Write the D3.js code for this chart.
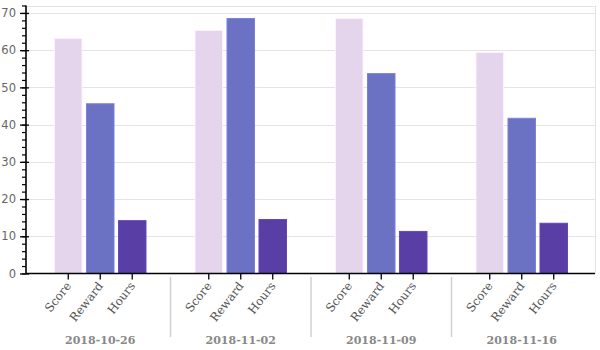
<!DOCTYPE html>
<html>
<head>
<meta charset="utf-8">
<script src="https://cdn.jsdelivr.net/npm/d3@7"></script>
<style>
  html, body { margin: 0; padding: 0; background: #fff; }
  svg { display: block; }
</style>
</head>
<body>
<svg id="chart" width="600" height="350"></svg>
<script>
// Weekly metrics, one group of bars per week
const weeks = ["2018-10-26", "2018-11-02", "2018-11-09", "2018-11-16"];
const seriesNames = ["Score", "Reward", "Hours"];
const scoreValues = [63.1, 65.3, 68.5, 59.4];
const rewardValues = [45.6, 68.5, 53.7, 41.7];
const hoursValues = [14.2, 14.5, 11.3, 13.5];
const yTicks = [0, 10, 20, 30, 40, 50, 60, 70];
const yMax = 72;

const seriesValues = { Score: scoreValues, Reward: rewardValues, Hours: hoursValues };
const colors = { Score: "#e4d4ec", Reward: "#6b72c3", Hours: "#593ea5" };

const svg = d3.select("#chart");
const plot = { left: 26, right: 595, top: 5.5, bottom: 273.5 };

const x0 = d3.scaleBand().domain(weeks).range([plot.left + 4, plot.right - 3]).padding(0);
const x1 = d3.scaleBand().domain(seriesNames).range([0, x0.bandwidth()])
  .paddingInner(0.14).paddingOuter(0.766);
const y = d3.scaleLinear().domain([0, yMax]).range([plot.bottom, plot.top]);

// frame and horizontal grid
const grid = svg.append("g").attr("stroke", "#e4e4e4").attr("stroke-width", 1);
grid.selectAll("line.h").data(yTicks.filter(d => d > 0).concat([yMax])).join("line")
  .attr("x1", plot.left).attr("x2", plot.right)
  .attr("y1", d => Math.round(y(d)) + 0.5).attr("y2", d => Math.round(y(d)) + 0.5);
grid.append("line")
  .attr("x1", plot.right + 0.5).attr("x2", plot.right + 0.5)
  .attr("y1", y(yMax)).attr("y2", plot.bottom);

// bars
const rows = weeks.flatMap((w, i) => seriesNames.map(s => ({ week: w, series: s, value: seriesValues[s][i] })));
svg.append("g").selectAll("rect").data(rows).join("rect")
  .attr("x", d => x0(d.week) + x1(d.series))
  .attr("width", x1.bandwidth())
  .attr("y", d => y(d.value))
  .attr("height", d => y(0) - y(d.value))
  .attr("fill", d => colors[d.series])
  .attr("stroke", d => d3.color(colors[d.series]).brighter(0.35))
  .attr("stroke-width", 1);

// y axis: minor ticks every 2, labelled majors every 10
const yMinor = svg.append("g").attr("transform", `translate(${plot.left},0)`)
  .call(d3.axisLeft(y).tickValues(d3.range(0, yMax + 1, 2)).tickSize(4).tickFormat(""));
yMinor.select(".domain").remove();
yMinor.selectAll("line").attr("stroke", "#000").attr("stroke-width", 1.2);

const yAxis = svg.append("g").attr("transform", `translate(${plot.left},0)`)
  .call(d3.axisLeft(y).tickValues(yTicks).tickSizeInner(6).tickSizeOuter(0).tickPadding(4));
yAxis.select(".domain").attr("stroke", "#000").attr("stroke-width", 1.6)
  .attr("d", `M0,${plot.top}V${plot.bottom}`);
yAxis.selectAll(".tick line").attr("stroke", "#000").attr("stroke-width", 1.3).attr("x2", 3).attr("x1", -6);
yAxis.selectAll(".tick text")
  .attr("font-family", "DejaVu Sans, sans-serif").attr("font-size", 11.5).attr("fill", "#666");

// x axis baseline
svg.append("line")
  .attr("x1", plot.left).attr("x2", plot.right)
  .attr("y1", plot.bottom).attr("y2", plot.bottom)
  .attr("stroke", "#000").attr("stroke-width", 1.6);

// per-bar ticks and rotated series labels
const xt = svg.append("g").selectAll("g").data(rows).join("g")
  .attr("transform", d => `translate(${x0(d.week) + x1(d.series) + x1.bandwidth() / 2},${plot.bottom})`);
xt.append("line").attr("y1", 0).attr("y2", 6).attr("stroke", "#000").attr("stroke-width", 1.3);
xt.append("text")
  .attr("transform", "translate(3.5,12.5) rotate(-52)")
  .attr("text-anchor", "end")
  .attr("font-family", "DejaVu Serif, serif").attr("font-size", 11.8).attr("fill", "#555")
  .text(d => d.series);

// week separators and week labels
svg.append("g").selectAll("line").data(weeks.slice(1)).join("line")
  .attr("x1", d => x0(d)).attr("x2", d => x0(d))
  .attr("y1", 277).attr("y2", 337)
  .attr("stroke", "#d0d0d0").attr("stroke-width", 1.5);
svg.append("g").selectAll("text").data(weeks).join("text")
  .attr("x", d => x0(d) + x0.bandwidth() / 2)
  .attr("y", 344)
  .attr("text-anchor", "middle")
  .attr("font-family", "DejaVu Serif, serif").attr("font-weight", "bold")
  .attr("font-size", 11).attr("fill", "#888")
  .text(d => d);
</script>
</body>
</html>
